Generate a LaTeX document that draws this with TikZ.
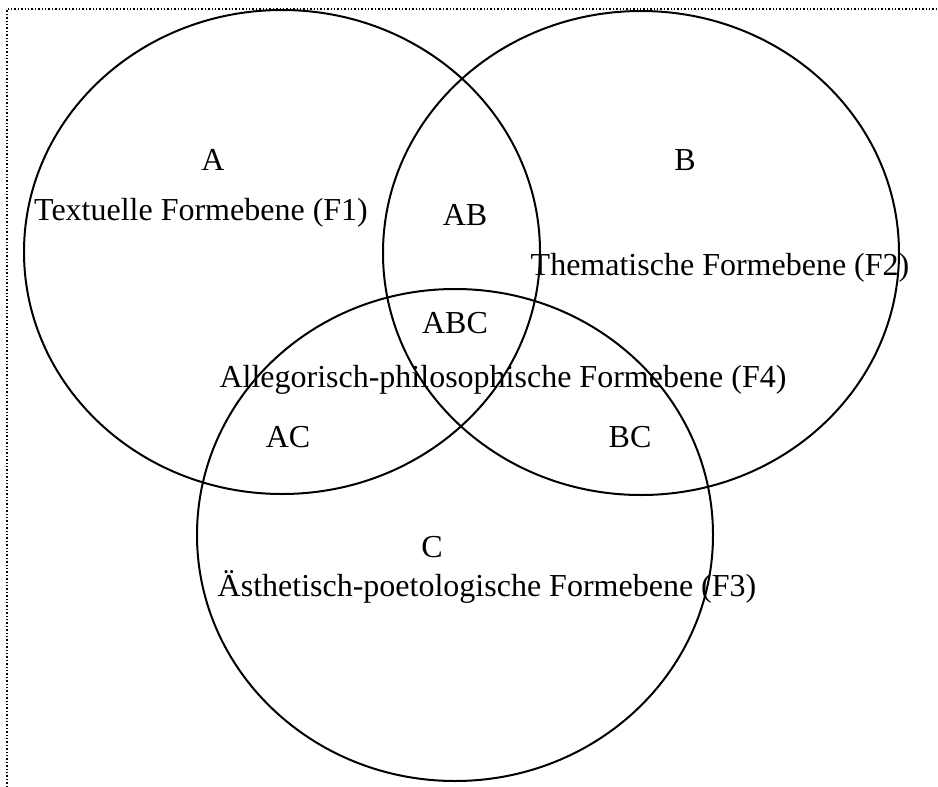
\documentclass[tikz,border=0pt]{standalone}
\usepackage{fontspec}
\setmainfont{Liberation Serif}
\usepackage{tikz}

\begin{document}
\begin{tikzpicture}[x=1pt, y=-1pt,
    ring/.style={line width=2pt},
    lbl/.style={font=\fontsize{32}{38}\selectfont, inner sep=0pt}]
        \useasboundingbox (0,0) rectangle (938,787);
        % frame
        \draw[dotted, line width=1.4pt] (7,787) -- (7,9) -- (938,9);
        % circles
        \draw[ring] (282,252) ellipse [x radius=258pt, y radius=242pt];
        \draw[ring] (641,253) ellipse [x radius=258pt, y radius=242pt];
        \draw[ring] (455,535) ellipse [x radius=258pt, y radius=246pt];
        % labels
        \node[lbl] (a) at (213,160) {A};
        \node[lbl] (b) at (685,160) {B};
        \node[lbl] (c) at (432,547) {C};
        \node[lbl] (ab) at (465,215) {AB};
        \node[lbl] (ac) at (288,437) {AC};
        \node[lbl] (bc) at (630,437) {BC};
        \node[lbl] (abc) at (455,323) {ABC};
        \node[lbl] (f1) at (201,213) {Textuelle Formebene (F1)};
        \node[lbl] (f2) at (720,268) {Thematische Formebene (F2)};
        \node[lbl] (f4) at (503,380) {Allegorisch-philosophische Formebene (F4)};
        \node[lbl] (f3) at (487,587) {Ästhetisch-poetologische Formebene (F3)};
    \end{tikzpicture}
\end{document}
